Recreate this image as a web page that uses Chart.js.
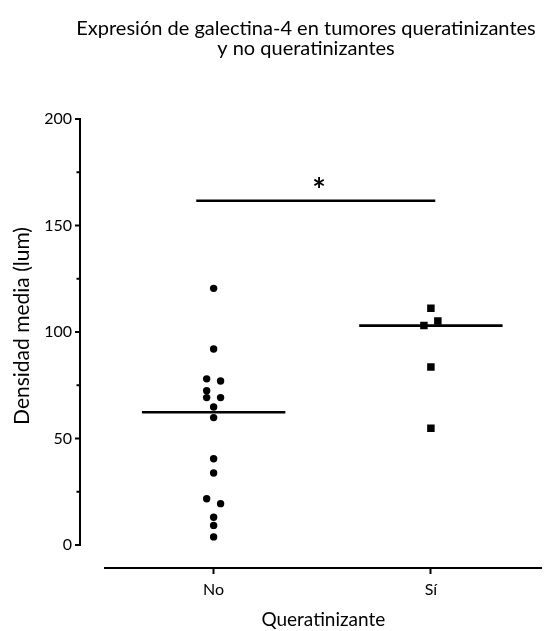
<!DOCTYPE html>
<html>
<head>
<meta charset="utf-8">
<script src="https://cdn.jsdelivr.net/npm/chart.js@4"></script>
<style>
  body { margin: 0; background: #fff; }
</style>
</head>
<body>
<canvas id="galectinaChart" width="547" height="631"></canvas>
<script>
// datos
const categories = ['No', 'Sí'];
const noValues = [120.5, 92, 78, 77, 72.4, 69.2, 69.2, 64.8, 59.8, 40.5, 33.8, 21.7, 19.4, 13, 9.2, 3.8];
const noJitter = [0, 0, -1, 1, -1, -1, 1, 0, 0, 0, 0, -1, 1, 0, 0, 0];
const siValues = [111.1, 105.2, 103, 83.6, 54.8];
const siJitter = [0, 1, -1, 0, 0];
const yTicks = [0, 50, 100, 150, 200];
const sigLevel = 161.6;
const sigLabel = '*';

const jitterStep = 0.032;
const halfWidth = 0.33;

function median(arr) {
    const s = [...arr].sort((a, b) => a - b);
    const m = Math.floor(s.length / 2);
    return s.length % 2 ? s[m] : (s[m - 1] + s[m]) / 2;
}

function toPoints(values, jitter, pos) {
    return values.map((v, i) => ({ x: pos + jitter[i] * jitterStep, y: v }));
}

function medianLine(values, pos) {
    const m = median(values);
    return [{ x: pos - halfWidth, y: m }, { x: pos + halfWidth, y: m }];
}

Chart.defaults.font.family = 'Lato';
Chart.defaults.color = '#000';

// eje Y separado del eje X, títulos y asterisco
const extras = {
    id: 'extras',
    afterDraw(chart) {
        const c = chart.ctx;
        const y = chart.scales.y;
        const x = chart.scales.x;
        const ax = chart.chartArea.left - 25;
        const yTop = y.getPixelForValue(yTicks[yTicks.length - 1]);
        const yBottom = y.getPixelForValue(0);
        c.save();
        c.strokeStyle = '#000';
        c.lineWidth = 2;
        c.beginPath();
        c.moveTo(ax, yTop - 1);
        c.lineTo(ax, yBottom + 1);
        y.ticks.forEach(t => {
            const py = y.getPixelForValue(t.value);
            const len = yTicks.includes(t.value) ? 5 : 3.5;
            c.moveTo(ax - len, py);
            c.lineTo(ax, py);
        });
        c.stroke();

        c.fillStyle = '#000';
        c.textAlign = 'center';
        c.font = 'bold 32px Lato';
        c.textBaseline = 'alphabetic';
        c.fillText(sigLabel, x.getPixelForValue(0.485), y.getPixelForValue(sigLevel) + 1);

        c.font = '20px Lato';
        c.textBaseline = 'middle';
        c.fillText('Expresión de galectina-4 en tumores queratinizantes', 306, 29);
        c.fillText('y no queratinizantes', 306, 49);

        // título del eje Y centrado en el eje visible
        c.translate(22, (yTop + yBottom) / 2 - 6);
        c.rotate(-Math.PI / 2);
        c.font = '21px Lato';
        c.fillText('Densidad media (lum)', 0, 0);
        c.restore();
    }
};

const ctx = document.getElementById('galectinaChart').getContext('2d');
const galectinaChart = new Chart(ctx, {
    type: 'scatter',
    data: {
        datasets: [{
            data: toPoints(noValues, noJitter, 0),
            pointStyle: 'circle',
            pointRadius: 3.7,
            backgroundColor: '#000',
            borderWidth: 0
        }, {
            data: toPoints(siValues, siJitter, 1),
            pointStyle: 'rect',
            pointRadius: 5.3,
            backgroundColor: '#000',
            borderWidth: 0
        }, {
            type: 'line',
            data: medianLine(noValues, 0),
            borderColor: '#000',
            borderWidth: 2.6,
            pointRadius: 0
        }, {
            type: 'line',
            data: medianLine(siValues, 1),
            borderColor: '#000',
            borderWidth: 2.6,
            pointRadius: 0
        }, {
            type: 'line',
            data: [{ x: -0.08, y: sigLevel }, { x: 1.02, y: sigLevel }],
            borderColor: '#000',
            borderWidth: 2.6,
            pointRadius: 0
        }]
    },
    options: {
        responsive: false,
        animation: false,
        layout: { padding: { top: 119, right: 4, left: 0, bottom: 0 } },
        plugins: {
            legend: { display: false },
            tooltip: { enabled: false }
        },
        scales: {
            x: {
                type: 'linear',
                min: -0.5,
                max: 1.51,
                afterFit(scale) { scale.height = 63; },
                border: { color: '#000', width: 2 },
                grid: { drawOnChartArea: false, tickLength: 6, tickWidth: 2, tickColor: '#000' },
                ticks: {
                    stepSize: 1,
                    includeBounds: false,
                    padding: 6,
                    font: { size: 16 },
                    callback: v => categories[v] ?? ''
                },
                title: { display: true, text: 'Queratinizante', font: { size: 19 }, padding: { top: 0, bottom: 0 } }
            },
            y: {
                min: -10.8,
                max: 200,
                afterFit(scale) { scale.width = 105; },
                border: { display: false },
                grid: { display: false, drawTicks: false },
                ticks: {
                    stepSize: 25,
                    includeBounds: false,
                    autoSkip: false,
                    padding: 33,
                    font: { size: 16 },
                    callback: v => yTicks.includes(v) ? v : ''
                }
            }
        }
    },
    plugins: [extras]
});
</script>
</body>
</html>
